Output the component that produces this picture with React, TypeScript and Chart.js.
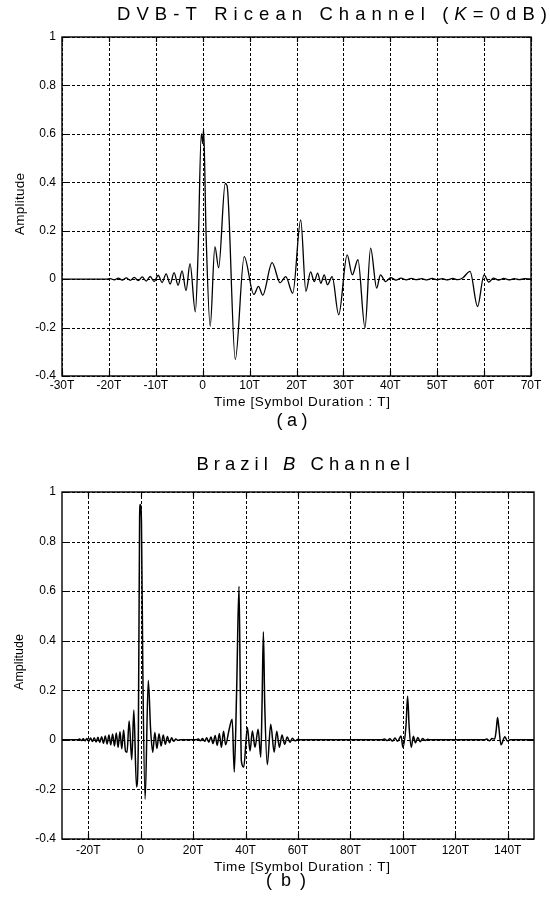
import React, { useEffect, useRef } from "react";
import { Chart, registerables } from "chart.js";
Chart.register(...registerables);

// ---------- data ----------
const Y_TICKS = [-0.4, -0.2, 0, 0.2, 0.4, 0.6, 0.8, 1];
const Y_LABELS = ["-0.4", "-0.2", "0", "0.2", "0.4", "0.6", "0.8", "1"];

const X_TICKS_A = [-30, -20, -10, 0, 10, 20, 30, 40, 50, 60, 70];
const X_LABELS_A = ["-30T", "-20T", "-10T", "0", "10T", "20T", "30T", "40T", "50T", "60T", "70T"];

const X_TICKS_B = [-20, 0, 20, 40, 60, 80, 100, 120, 140];
const X_LABELS_B = ["-20T", "0", "20T", "40T", "60T", "80T", "100T", "120T", "140T"];

// (a) DVB-T Ricean channel impulse response
const TIME_A = [
  -30, -20.6, -19.7, -18.85, -18, -17.15, -16.3, -15.45, -14.6, -13.75, -12.9, -12.05, -11.2,
  -10.35, -9.5, -8.65, -7.8, -6.95, -6.1, -5.25, -4.4, -3.55, -2.7, -1.57, -1.0, -0.3, 0, 0.2,
  0.7, 1.6, 2.6, 3.4, 4.8, 5.2, 6.95, 8.85, 10.9, 11.9, 12.8, 14.8, 16.5, 17.7, 19.2, 20.9,
  22.0, 23.0, 23.8, 24.5, 25.2, 25.9, 26.6, 27.6, 29.0, 30.8, 31.9, 33.1, 34.6, 35.8, 37.1,
  37.9, 39.0, 40.1, 41.2, 42.3, 43.4, 44.5, 45.6, 46.7, 47.8, 48.9, 50, 51.1, 52.2, 53.3,
  54.4, 55.5, 57.0, 58.6, 60.0, 61.0, 62.0, 63.1, 64.2, 65.3, 66.4, 67.5, 68.6, 70,
];
const AMP_A = [
  0, 0, 0.002, -0.003, 0.004, -0.004, 0.005, -0.005, 0.007, -0.006, 0.009, -0.008, 0.011,
  -0.01, 0.016, -0.014, 0.022, -0.02, 0.027, -0.025, 0.034, -0.047, 0.064, -0.135, 0.1, 0.6, 0.56, 0.62,
  0.2, -0.195, 0.134, 0.047, 0.395, 0.385, -0.332, 0.093, -0.063, -0.03, -0.066, 0.068, -0.015, 0.01, -0.058, 0.245,
  -0.05, 0.03, -0.01, 0.025, -0.017, 0.018, -0.023, 0.01, -0.147, 0.1, 0.018, 0.08, -0.2, 0.128, -0.037,
  0.018, -0.01, 0.006, -0.004, 0.004, -0.003, 0.003, -0.002, 0.002, -0.003, 0.003, -0.002, 0.002, -0.003, 0.003,
  -0.002, 0.006, 0.032, -0.113, 0.018, -0.012, 0.004, -0.004, 0.003, -0.003, 0.002, -0.002, 0.002, 0,
];

// (b) Brazil B channel impulse response
const TIME_B = [
  -30, -24, -23.3, -22.6, -21.9, -21.2, -20.5, -19.8, -19.1, -18.4, -17.7, -17, -16.3, -15.6,
  -14.9, -14.2, -13.5, -12.8, -12.1, -11.4, -10.7, -10, -9.3, -8.6, -7.9, -7.2, -6.5, -5.8,
  -5.2, -4.4, -3.4, -2.6, -1.6, -0.9, -0.4, -0.15, 0.3, 0.8, 1.7, 2.9, 3.8, 4.6, 5.4, 6.2,
  7.0, 7.8, 8.6, 9.4, 10.2, 11.0, 11.8, 12.6, 13.4, 14.2, 15, 21, 22, 22.8, 23.6, 24.4, 25.2,
  26, 26.8, 27.6, 28.4, 29.2, 30, 30.8, 31.6, 32.4, 33.7, 34.9, 35.7, 36.6, 37.5, 38.0, 38.4,
  39.3, 40.7, 41.7, 42.6, 43.6, 44.8, 45.8, 46.3, 46.8, 47.3, 48.3, 49.6, 50.9, 51.9, 52.9,
  53.9, 54.9, 55.9, 56.9, 57.9, 58.9, 60, 61, 92, 93, 94, 95, 96, 97, 98, 99.3, 100, 101.2,
  101.8, 102.4, 103.2, 104, 104.8, 105.7, 106.6, 107.5, 108.5, 109.5, 110.5, 131, 132, 133,
  134, 135, 135.6, 136.1, 136.6, 137.4, 138.9, 139.8, 141, 150,
];
const AMP_B = [
  0, 0, 0.003, -0.003, 0.004, -0.004, 0.005, -0.006, 0.007, -0.007, 0.009, -0.009, 0.011, -0.011,
  0.013, -0.014, 0.016, -0.017, 0.02, -0.02, 0.024, -0.025, 0.028, -0.03, 0.033, -0.036, 0.04, -0.045,
  -0.05, 0.076, -0.08, 0.12, -0.19, -0.02, 0.9, 0.95, 0.88, 0.3, -0.24, 0.24, 0.04, -0.05, 0.03, -0.035,
  0.025, -0.025, 0.02, -0.018, 0.014, -0.012, 0.009, -0.006, 0.003, -0.002, 0, 0, 0.003, -0.004, 0.005, -0.006, 0.008,
  -0.01, 0.012, -0.015, 0.018, -0.022, 0.026, -0.03, 0.035, -0.02, 0.04, 0.083, -0.13, 0.2, 0.62, 0.2, -0.085,
  -0.11, 0.05, -0.045, 0.036, -0.03, 0.043, -0.07, 0.15, 0.436, 0.15, -0.1, 0.063, -0.05, 0.035, -0.03,
  0.02, -0.018, 0.012, -0.01, 0.006, -0.004, 0.002, 0, 0, 0.003, -0.003, 0.004, -0.005, 0.007, -0.006, 0.016, -0.03, 0.06,
  0.176, 0.05, -0.03, 0.015, -0.012, 0.01, -0.008, 0.005, -0.003, 0.002, 0, 0, 0.003, -0.004,
  0.005, 0.003, 0.04, 0.09, 0.05, -0.02, 0.013, -0.005, 0, 0,
];

const TITLE_A = [
  { t: "DVB-T Ricean Channel (", i: false },
  { t: "K", i: true },
  { t: "=0dB)", i: false },
];
const TITLE_B = [
  { t: "Brazil ", i: false },
  { t: "B", i: true },
  { t: " Channel", i: false },
];
const X_TITLE = "Time [Symbol Duration : T]";
const Y_TITLE = "Amplitude";
const CAP_A = "(a)";
const CAP_B = "(b)";

// ---------- drawing helpers ----------
const FONT_FAMILY = '"Liberation Sans", Arial, Helvetica, sans-serif';

type Part = { t: string; i: boolean };
type TextItem = {
  parts: Part[];
  cx: number;
  cy: number;
  width: number;
  size: number;
  rotate?: boolean;
};

function drawFitted(ctx: CanvasRenderingContext2D, item: TextItem) {
  const fontOf = (p: Part) => `${p.i ? "italic " : ""}${item.size}px ${FONT_FAMILY}`;
  (ctx as any).letterSpacing = "0px";
  let natural = 0;
  let n = 0;
  const widths = item.parts.map((p) => {
    ctx.font = fontOf(p);
    const w = ctx.measureText(p.t).width;
    natural += w;
    n += p.t.length;
    return w;
  });
  const sp = n > 1 ? Math.max(0, (item.width - natural) / (n - 1)) : 0;
  const total = natural + sp * (n - 1);
  ctx.save();
  ctx.translate(item.cx, item.cy);
  if (item.rotate) ctx.rotate(-Math.PI / 2);
  ctx.fillStyle = "#000";
  ctx.textBaseline = "middle";
  ctx.textAlign = "left";
  (ctx as any).letterSpacing = `${sp}px`;
  let x = -total / 2;
  item.parts.forEach((p, k) => {
    ctx.font = fontOf(p);
    ctx.fillText(p.t, x, 0);
    x += widths[k] + sp * p.t.length;
  });
  (ctx as any).letterSpacing = "0px";
  ctx.restore();
}

const gridPlugin = {
  id: "dotGrid",
  beforeDatasetsDraw(chart: any, _args: any, opts: any) {
    const { ctx, chartArea: a, scales } = chart;
    ctx.save();
    ctx.strokeStyle = "#000";
    ctx.lineWidth = 1;
    ctx.setLineDash([3, 2]);
    (opts.xTicks as number[]).forEach((v) => {
      const x = Math.round(scales.x.getPixelForValue(v)) + 0.5;
      ctx.beginPath();
      ctx.moveTo(x, a.bottom);
      ctx.lineTo(x, a.top);
      ctx.stroke();
    });
    Y_TICKS.forEach((v) => {
      const y = Math.round(scales.y.getPixelForValue(v)) + 0.5;
      ctx.beginPath();
      ctx.moveTo(a.left, y);
      ctx.lineTo(a.right, y);
      ctx.stroke();
    });
    ctx.restore();
  },
};

const framePlugin = {
  id: "frameTexts",
  afterDraw(chart: any, _args: any, opts: any) {
    const { ctx, chartArea: a, scales } = chart;
    ctx.save();
    ctx.setLineDash([]);
    ctx.strokeStyle = "#000";
    ctx.lineWidth = 1.2;
    const L = 5;
    (opts.xTicks as number[]).forEach((v) => {
      const x = Math.round(scales.x.getPixelForValue(v)) + 0.5;
      ctx.beginPath();
      ctx.moveTo(x, a.bottom);
      ctx.lineTo(x, a.bottom - L);
      ctx.moveTo(x, a.top);
      ctx.lineTo(x, a.top + L);
      ctx.stroke();
    });
    Y_TICKS.forEach((v) => {
      const y = Math.round(scales.y.getPixelForValue(v)) + 0.5;
      ctx.beginPath();
      ctx.moveTo(a.left, y);
      ctx.lineTo(a.left + L, y);
      ctx.moveTo(a.right, y);
      ctx.lineTo(a.right - L, y);
      ctx.stroke();
    });
    ctx.lineWidth = 1.4;
    ctx.strokeRect(a.left, a.top, a.right - a.left, a.bottom - a.top);
    (opts.texts as TextItem[]).forEach((t) => drawFitted(ctx, t));
    ctx.restore();
  },
};

type Geom = {
  top: number;
  height: number;
  padTop: number;
  padRight: number;
  yWidth: number;
  plotBottom: number;
  xPad: number;
};

function ChartPanel(props: {
  geom: Geom;
  times: number[];
  amps: number[];
  xMin: number;
  xMax: number;
  xTicks: number[];
  xLabels: string[];
  texts: TextItem[];
  lineWidth: number;
}) {
  const ref = useRef<HTMLCanvasElement | null>(null);
  useEffect(() => {
    const { geom, times, amps, xMin, xMax, xTicks, xLabels, texts, lineWidth } = props;
    const chart = new Chart(ref.current as HTMLCanvasElement, {
      type: "line",
      data: {
        datasets: [
          {
            data: times.map((t, i) => ({ x: t, y: amps[i] })),
            borderColor: "#000",
            borderWidth: lineWidth,
            pointRadius: 0,
            cubicInterpolationMode: "monotone",
            fill: false,
          },
        ],
      },
      options: {
        animation: false,
        responsive: false,
        devicePixelRatio: 1,
        events: [],
        layout: { padding: { top: geom.padTop, right: geom.padRight, left: 0, bottom: 0 } },
        plugins: {
          legend: { display: false },
          title: { display: false },
          tooltip: { enabled: false },
          frameTexts: { texts, xTicks },
          dotGrid: { xTicks },
        } as any,
        scales: {
          x: {
            type: "linear",
            min: xMin,
            max: xMax,
            afterBuildTicks: (s: any) => {
              s.ticks = xTicks.map((v) => ({ value: v }));
            },
            afterFit: (s: any) => {
              s.height = geom.height - geom.plotBottom;
            },
            ticks: {
              autoSkip: false,
              maxRotation: 0,
              padding: geom.xPad,
              color: "#000",
              font: { family: FONT_FAMILY, size: 12 },
              callback: (v: any) => {
                const k = xTicks.indexOf(Number(v));
                return k >= 0 ? xLabels[k] : "";
              },
            },
            grid: { display: false, drawTicks: false },
            border: { display: false },
          },
          y: {
            type: "linear",
            min: -0.4,
            max: 1,
            afterBuildTicks: (s: any) => {
              s.ticks = Y_TICKS.map((v) => ({ value: v }));
            },
            afterFit: (s: any) => {
              s.width = geom.yWidth;
            },
            ticks: {
              padding: 6,
              color: "#000",
              font: { family: FONT_FAMILY, size: 12 },
              callback: (v: any) => {
                const k = Y_TICKS.findIndex((t) => Math.abs(t - Number(v)) < 1e-6);
                return k >= 0 ? Y_LABELS[k] : "";
              },
            },
            grid: { display: false, drawTicks: false },
            border: { display: false },
          },
        },
      } as any,
      plugins: [gridPlugin as any, framePlugin as any],
    });
    return () => chart.destroy();
  }, []);
  return (
    <canvas
      ref={ref}
      width={550}
      height={props.geom.height}
      style={{
        position: "absolute",
        left: 0,
        top: props.geom.top,
        width: 550,
        height: props.geom.height,
        display: "block",
      }}
    />
  );
}

const GEOM_A: Geom = { top: 0, height: 440, padTop: 37, padRight: 19, yWidth: 62, plotBottom: 376, xPad: 2 };
const GEOM_B: Geom = { top: 440, height: 458, padTop: 52, padRight: 16, yWidth: 62, plotBottom: 399, xPad: 4 };

const TEXTS_A: TextItem[] = [
  { parts: TITLE_A, cx: 332, cy: 15, width: 430, size: 18.5 },
  { parts: [{ t: Y_TITLE, i: false }], cx: 20, cy: 204, width: 62, size: 13.5, rotate: true },
  { parts: [{ t: X_TITLE, i: false }], cx: 302, cy: 402, width: 176, size: 13.5 },
  { parts: [{ t: CAP_A, i: false }], cx: 292, cy: 421, width: 31, size: 18 },
];
const TEXTS_B: TextItem[] = [
  { parts: TITLE_B, cx: 303, cy: 25, width: 213, size: 18.5 },
  { parts: [{ t: Y_TITLE, i: false }], cx: 20, cy: 222, width: 56, size: 12.5, rotate: true },
  { parts: [{ t: X_TITLE, i: false }], cx: 302, cy: 427, width: 176, size: 13.5 },
  { parts: [{ t: CAP_B, i: false }], cx: 286, cy: 441, width: 40, size: 18 },
];

export default function App() {
  return (
    <div style={{ position: "absolute", left: 0, top: 0, width: 550, height: 898, background: "#fff" }}>
      <ChartPanel
        geom={GEOM_A}
        times={TIME_A}
        amps={AMP_A}
        xMin={-30}
        xMax={70}
        xTicks={X_TICKS_A}
        xLabels={X_LABELS_A}
        texts={TEXTS_A}
        lineWidth={1.3}
      />
      <ChartPanel
        geom={GEOM_B}
        times={TIME_B}
        amps={AMP_B}
        xMin={-30}
        xMax={150}
        xTicks={X_TICKS_B}
        xLabels={X_LABELS_B}
        texts={TEXTS_B}
        lineWidth={1.5}
      />
    </div>
  );
}
